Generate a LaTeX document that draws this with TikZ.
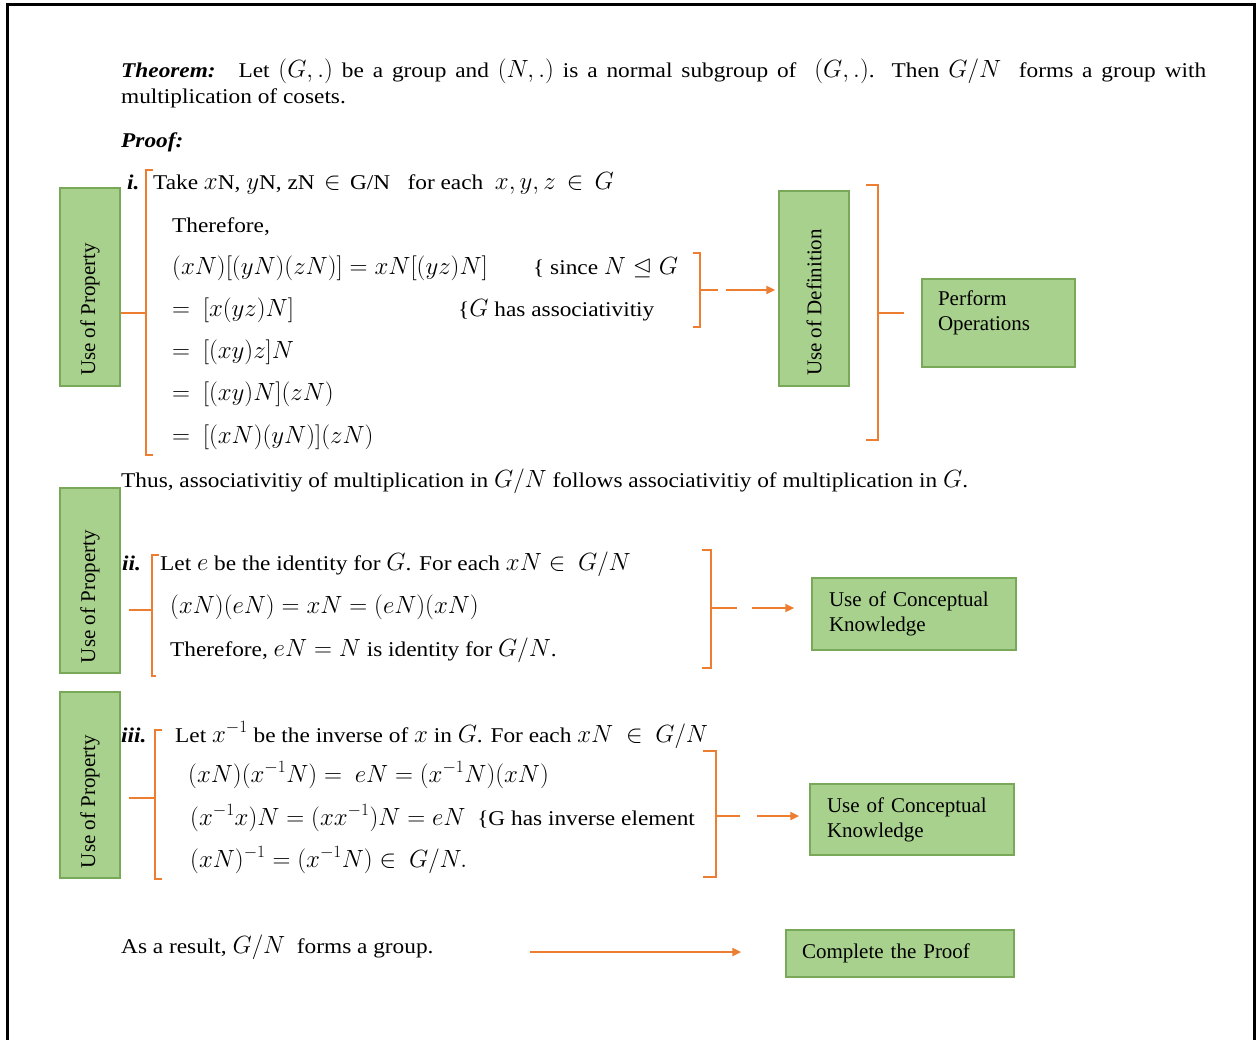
\documentclass[tikz,border=0pt]{standalone}
\usepackage{amssymb}
\usepackage{fontspec}
\usepackage{graphicx}
\setmainfont{Liberation Serif}[FakeStretch=1.11]
\newfontfamily\boxfont{Liberation Serif}
\DeclareMathSizes{21}{24.5}{17}{13}
\usetikzlibrary{arrows.meta}
\definecolor{orng}{RGB}{237,125,49}
\definecolor{gfill}{RGB}{169,209,142}
\definecolor{gdraw}{RGB}{120,168,88}
\begin{document}
\begin{tikzpicture}[x=1pt,y=-1pt,
  font=\fontsize{21}{25}\selectfont,
  txt/.style={anchor=base west, inner sep=0pt},
  gbox/.style={draw=gdraw, fill=gfill, line width=1.5pt, inner sep=0pt, font=\fontsize{21}{25}\boxfont},
  cbox/.style={gbox, inner xsep=17pt, align=left},
  brk/.style={draw=orng, line width=2.5pt},
  conn/.style={draw=orng, line width=2.5pt, -{Triangle[length=9pt,width=8pt]}},
]
\useasboundingbox (0,0) rectangle (1259,1040);
\draw[line width=3pt] (7,1040) -- (7,5) -- (1254,5) -- (1254,1040);

% theorem
\node[txt] (thm1) at (121,78) {\makebox[1085pt][s]{\textbf{\textit{Theorem:}} \ Let $(G,.)$ be a group and $(N,.)$ is a normal subgroup of \ $(G,.)$. Then $G/N$ \ forms a group with}};
\node[txt] (thm2) at (121,104) {multiplication of cosets.};
\node[txt] (proof) at (121,148) {\textbf{\textit{Proof:}}};

% section i
\node[txt] (ni) at (127,190) {\textbf{\textit{i.}}};
\node[txt] (l1) at (153,190) {Take $x$N, $y$N, zN \,$\in$\, G/N \ \ for each \ $x,y,z\,\in\, G$};
\node[txt] (l2) at (172,233) {Therefore,};
\node[txt] (l3) at (172,275) {$(xN)[(yN)(zN)]=xN[(yz)N]$};
\node[txt] (c3) at (533,275) {\{ since $N\trianglelefteq G$};
\node[txt] (l4) at (172,317) {$=\ [x(yz)N]$};
\node[txt] (c4) at (458,317) {\{$G$ has associativitiy};
\node[txt] (l5) at (172,359) {$=\ [(xy)z]N$};
\node[txt] (l6) at (172,401) {$=\ [(xy)N](zN)$};
\node[txt] (l7) at (172,444) {$=\ [(xN)(yN)](zN)$};

\node[gbox, minimum width=60pt, minimum height=198pt] (upi) at (90,287) {\rotatebox{90}{\makebox[178pt][l]{Use of Property}}};
\node[gbox, minimum width=70pt, minimum height=195pt] (udef) at (814,288.5) {\rotatebox{90}{\makebox[175pt][l]{Use of Definition}}};
\node[gbox, minimum width=153pt, minimum height=88pt] (perf) at (998.5,323) {\parbox[c][64pt][t]{121pt}{\raggedright Perform\\Operations}};

\draw[brk] (153,170) -- (146,170) -- (146,455) -- (153,455);
\coordinate (bLi) at (146,313);
\draw[brk] (bLi) -- (bLi -| upi.east);
\draw[brk] (693,253) -- (700,253) -- (700,327) -- (693,327);
\coordinate (bRi) at (700,290);
\draw[conn, dash pattern=on 18pt off 8pt on 80pt, shorten >=3pt] (bRi) -- (bRi -| udef.west);
\draw[brk] (866,185) -- (878,185) -- (878,440) -- (866,440);
\coordinate (bBi) at (878,313);
\draw[brk, shorten >=17pt] (bBi) -- (bBi -| perf.west);

\node[txt] (thus) at (121,488) {Thus, associativitiy of multiplication in $G/N$ follows associativitiy of multiplication in $G$.};

% section ii
\node[gbox, minimum width=60pt, minimum height=185pt] (upii) at (90,580.5) {\rotatebox{90}{\makebox[165pt][l]{Use of Property}}};
\node[txt] (nii) at (122,570) {\textbf{\textit{ii.}}};
\node[txt] (m1) at (160,570) {Let $e$ be the identity for $G$. For each $xN\in\ G/N$};
\node[txt] (m2) at (170,613) {$(xN)(eN)=xN=(eN)(xN)$};
\node[txt] (m3) at (170,656) {Therefore, $eN=N$ is identity for $G/N$.};
\node[cbox, text width=170pt, minimum height=72pt] (cii) at (914,614) {Use of Conceptual\\Knowledge};

\draw[brk] (159,555) -- (152,555) -- (152,676) -- (156,676);
\coordinate (bLii) at (152,610);
\draw[brk, shorten >=8pt] (bLii) -- (bLii -| upii.east);
\draw[brk] (702,550) -- (711,550) -- (711,668) -- (702,668);
\coordinate (bRii) at (711,608);
\draw[conn, dash pattern=on 26pt off 15pt on 100pt, shorten >=17pt] (bRii) -- (bRii -| cii.west);

% section iii
\node[gbox, minimum width=60pt, minimum height=186pt] (upiii) at (90,785) {\rotatebox{90}{\makebox[166pt][l]{Use of Property}}};
\node[txt] (niii) at (121,742) {\textbf{\textit{iii.}}};
\node[txt] (k1) at (175,742) {Let $x^{-1}$ be the inverse of $x$ in $G$. For each $xN\ \in\ G/N$};
\node[txt] (k2) at (188,782) {$(xN)(x^{-1}N)=\ eN=(x^{-1}N)(xN)$};
\node[txt] (k3) at (190,825) {$(x^{-1}x)N=(xx^{-1})N=eN$ \ \{G has inverse element};
\node[txt] (k4) at (190,867) {$(xN)^{-1}=(x^{-1}N)\in\ G/N.$};
\node[cbox, text width=170pt, minimum height=71pt] (ciii) at (912,819.5) {Use of Conceptual\\Knowledge};

\draw[brk] (162,730) -- (155,730) -- (155,879) -- (162,879);
\coordinate (bLiii) at (155,798);
\draw[brk, shorten >=8pt] (bLiii) -- (bLiii -| upiii.east);
\draw[brk] (703,751) -- (716,751) -- (716,877) -- (703,877);
\coordinate (bRiii) at (716,816);
\draw[conn, dash pattern=on 24pt off 17pt on 100pt, shorten >=10pt] (bRiii) -- (bRiii -| ciii.west);

% conclusion
\node[txt] (res) at (121,953) {As a result, $G/N$ \ forms a group.};
\node[gbox, inner xsep=16pt, text width=196pt, minimum height=47pt, align=left] (cp) at (900,953.5) {Complete the Proof};
\coordinate (fa) at (530,952);
\draw[conn, shorten >=44pt] (fa) -- (fa -| cp.west);
\end{tikzpicture}
\end{document}
